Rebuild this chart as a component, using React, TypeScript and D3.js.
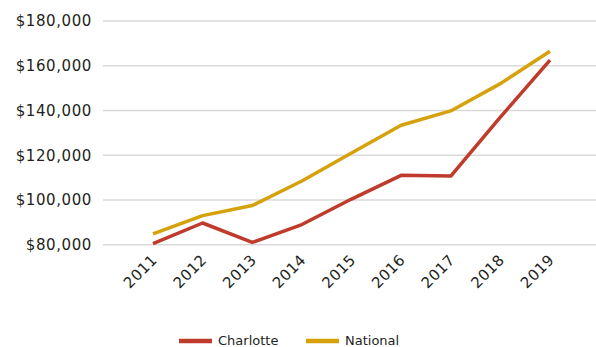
import React from "react";
import * as d3 from "d3";

const years = ["2011", "2012", "2013", "2014", "2015", "2016", "2017", "2018", "2019"];
const charlotte = [80500, 89700, 81000, 89000, 100400, 111000, 110700, 137000, 162500];
const national = [84800, 93000, 97500, 108500, 121000, 133400, 139800, 152000, 166500];
const yTicks = [80000, 100000, 120000, 140000, 160000, 180000];
const seriesNames = ["Charlotte", "National"];
const colors = ["#BF3B2C", "#D6A20B"];

const W = 596;
const H = 347;
const font = "'DejaVu Sans', sans-serif";

export default function App() {
  const x = d3.scalePoint<string>().domain(years).range([153, 550]);
  const y = d3.scaleLinear().domain([80000, 180000]).range([244.7, 21]);
  const line = d3
    .line<number>()
    .x((_, i) => x(years[i]) as number)
    .y((d) => y(d));
  const fmt = (v: number) => "$" + d3.format(",")(v);
  const data = [charlotte, national];
  const legendX = [179, 306];

  return (
    <svg width={W} height={H} style={{ position: "absolute", left: 0, top: 0, background: "#fff" }}>
      {yTicks.map((t) => (
        <g key={t}>
          <line x1={103} x2={596} y1={y(t)} y2={y(t)} stroke="#D9D9D9" strokeWidth={1.5} />
          <text x={92} y={y(t)} dy="0.36em" textAnchor="end" fontFamily={font} fontSize={15} letterSpacing={0.6} fill="#231F20">
            {fmt(t)}
          </text>
        </g>
      ))}
      {years.map((yr) => (
        <text
          key={yr}
          transform={`translate(${(x(yr) as number) + 5},${261}) rotate(-45)`}
          textAnchor="end"
          fontFamily={font}
          fontSize={15}
          letterSpacing={0.4}
          fill="#231F20"
        >
          {yr}
        </text>
      ))}
      {data.map((d, i) => (
        <path key={i} d={line(d) || ""} fill="none" stroke={colors[i]} strokeWidth={3.5} strokeLinejoin="round" />
      ))}
      {seriesNames.map((n, i) => (
        <g key={n}>
          <line x1={legendX[i]} x2={legendX[i] + 33} y1={341} y2={341} stroke={colors[i]} strokeWidth={4.5} />
          <text x={legendX[i] + 39} y={345} fontFamily={font} fontSize={13} fill="#231F20">
            {n}
          </text>
        </g>
      ))}
    </svg>
  );
}
